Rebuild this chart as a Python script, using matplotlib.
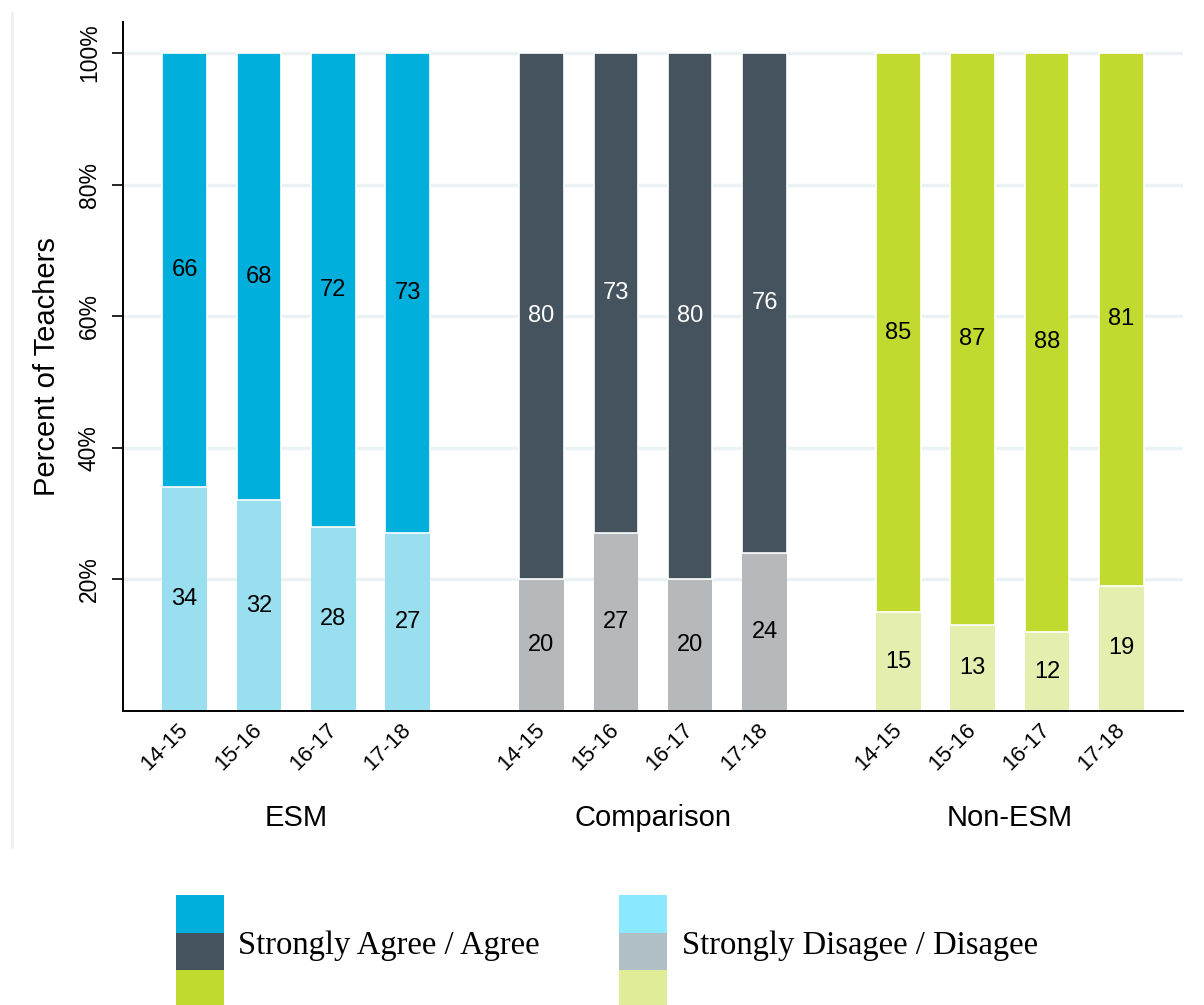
import matplotlib.pyplot as plt
import numpy as np
from matplotlib.patches import Rectangle
from matplotlib.lines import Line2D

# Teacher survey responses, percent of teachers per school year
groups = ['ESM', 'Comparison', 'Non-ESM']
years = ['14-15', '15-16', '16-17', '17-18']
agree = {
    'ESM': [66, 68, 72, 73],
    'Comparison': [80, 73, 80, 76],
    'Non-ESM': [85, 87, 88, 81],
}
disagree = {
    'ESM': [34, 32, 28, 27],
    'Comparison': [20, 27, 20, 24],
    'Non-ESM': [15, 13, 12, 19],
}

agree_colors = {'ESM': '#00AFDB', 'Comparison': '#44535E', 'Non-ESM': '#C2D92F'}
disagree_colors = {'ESM': '#9ADFF0', 'Comparison': '#B5B9BC', 'Non-ESM': '#E4EEAE'}
agree_text = {'ESM': 'black', 'Comparison': 'white', 'Non-ESM': 'black'}
legend_agree = ['#00AFDB', '#44535E', '#C2D92F']
legend_disagree = ['#8AE8FF', '#B0BFC5', '#E0EC98']

plt.rcParams['font.family'] = ['Liberation Sans', 'DejaVu Sans']

W, H = 1204, 1005
fig = plt.figure(figsize=(W / 100, H / 100), dpi=100)
ax = fig.add_axes([123 / W, 1 - 711 / H, (1183 - 123) / W, (711 - 22) / H])

group_step = 4.8
width = 0.6
xticks, xlabels = [], []
for g, name in enumerate(groups):
    x = g * group_step + np.arange(len(years))
    d = np.array(disagree[name])
    a = np.array(agree[name])
    ax.bar(x, d, width, color=disagree_colors[name], zorder=2)
    ax.bar(x, a, width, bottom=d, color=agree_colors[name],
           edgecolor='white', linewidth=1.2, zorder=3)
    for xi, di, ai in zip(x, d, a):
        ax.text(xi, di / 2, str(di), ha='center', va='center',
                fontsize=17, color='black', zorder=4)
        ax.text(xi, di + ai / 2, str(ai), ha='center', va='center',
                fontsize=17, color=agree_text[name], zorder=4)
    xticks.extend(x)
    xlabels.extend(years)
    ax.text(x.mean(), -0.155, name, ha='center', va='center', fontsize=21,
            transform=ax.get_xaxis_transform())

ax.set_xlim(-0.83, 2 * group_step + 3 + 0.83)
ax.set_ylim(0, 104.7)
ax.set_xticks(xticks)
ax.set_xticklabels(xlabels, rotation=45, ha='right', va='center',
                   rotation_mode='anchor', fontsize=16)
ax.tick_params(axis='x', length=0, pad=11)

ax.set_yticks([20, 40, 60, 80, 100])
ax.set_yticklabels(['20%', '40%', '60%', '80%', '100%'], rotation=90,
                   va='center', fontsize=16.5)
ax.tick_params(axis='y', length=8, width=1.2, pad=8)
ax.yaxis.grid(True, color='#EAF2F3', linewidth=2.5, zorder=0)
ax.set_axisbelow(True)
ax.set_ylabel('Percent of Teachers', fontsize=21, labelpad=12)

for side in ['top', 'right']:
    ax.spines[side].set_visible(False)
for side in ['left', 'bottom']:
    ax.spines[side].set_linewidth(1.4)

# faint outer border of the plot region
fig.add_artist(Line2D([12 / W, 12 / W], [1 - 847 / H, 1 - 13 / H],
                      color='#EAF1F4', linewidth=2))

# stacked colour legend below the plot
leg = fig.add_axes([0, 0, 1, 1])
leg.set_xlim(0, W)
leg.set_ylim(H, 0)
leg.axis('off')
leg.patch.set_alpha(0)
row_h = 37.5
for col_x, colors in [(176, legend_agree), (619, legend_disagree)]:
    for i, c in enumerate(colors):
        leg.add_patch(Rectangle((col_x, 895 + i * row_h), 48, row_h,
                                facecolor=c, edgecolor='none'))
leg.text(238, 946, 'Strongly Agree / Agree', fontsize=23.5,
         family='Liberation Serif', va='center', ha='left')
leg.text(682, 946, 'Strongly Disagee / Disagee', fontsize=23.5,
         family='Liberation Serif', va='center', ha='left')

fig.savefig('out.png', dpi=100)
